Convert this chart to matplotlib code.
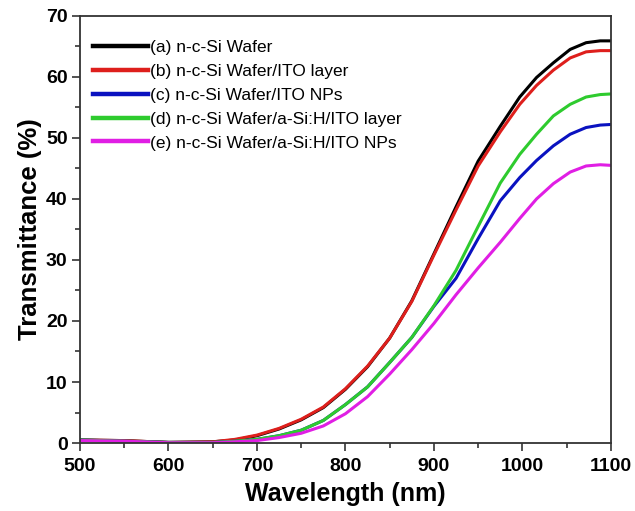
import matplotlib
matplotlib.use("Agg")
import matplotlib.pyplot as plt
from matplotlib.ticker import MultipleLocator

plt.rcParams['font.family'] = ['Liberation Sans', 'DejaVu Sans']

# longueurs d'onde (nm)
wl = [500, 550, 600, 650, 675, 700, 725, 750, 775, 800, 825, 850, 875, 900,
      925, 950, 975, 997, 1016, 1035, 1054, 1072, 1088, 1100]

# transmittance (%) pour chaque echantillon
T_a = [0.5, 0.4, 0.1, 0.2, 0.5, 1.2, 2.3, 3.8, 5.8, 8.8, 12.5, 17.2, 23.3, 31.0,
       38.7, 46.2, 51.9, 56.7, 59.9, 62.3, 64.5, 65.6, 65.9, 65.9]
T_b = [0.5, 0.4, 0.1, 0.2, 0.6, 1.3, 2.4, 3.9, 5.9, 8.9, 12.6, 17.2, 23.2, 30.8,
       38.2, 45.4, 51.0, 55.5, 58.6, 61.1, 63.1, 64.1, 64.3, 64.3]
T_c = [0.5, 0.3, 0.1, 0.1, 0.3, 0.6, 1.2, 2.1, 3.7, 6.3, 9.2, 13.2, 17.3, 22.4,
       27.0, 33.5, 39.7, 43.5, 46.3, 48.7, 50.6, 51.7, 52.1, 52.2]
T_d = [0.5, 0.3, 0.1, 0.1, 0.3, 0.6, 1.2, 2.1, 3.7, 6.3, 9.2, 13.2, 17.3, 22.5,
       28.3, 35.5, 42.6, 47.3, 50.6, 53.6, 55.5, 56.7, 57.1, 57.2]
T_e = [0.4, 0.3, 0.05, 0.05, 0.2, 0.4, 0.9, 1.6, 2.8, 4.8, 7.6, 11.3, 15.3, 19.6,
       24.3, 28.7, 32.9, 36.8, 40.0, 42.5, 44.4, 45.4, 45.6, 45.5]

labels = ['(a) n-c-Si Wafer',
          '(b) n-c-Si Wafer/ITO layer',
          '(c) n-c-Si Wafer/ITO NPs',
          '(d) n-c-Si Wafer/a-Si:H/ITO layer',
          '(e) n-c-Si Wafer/a-Si:H/ITO NPs']
couleurs = ['#000000', '#de1f1c', '#0a12c0', '#2ecb2e', '#e01ee4']

fig = plt.figure(figsize=(6.35, 5.11), dpi=100)
ax = fig.add_axes([0.126, 0.133, 0.836, 0.836])

for T, lab, c in zip([T_a, T_b, T_c, T_d, T_e], labels, couleurs):
    ax.plot(wl, T, '-', color=c, lw=2.2, label=lab)

ax.set_xlim(500, 1100)
ax.set_ylim(0, 70)
ax.xaxis.set_major_locator(MultipleLocator(100))
ax.xaxis.set_minor_locator(MultipleLocator(50))
ax.yaxis.set_major_locator(MultipleLocator(10))
ax.yaxis.set_minor_locator(MultipleLocator(5))
ax.tick_params(which='both', direction='out', top=False, right=False,
               width=1.2, color='#333333')
ax.tick_params(which='major', length=6, labelsize=14, pad=3)
ax.tick_params(axis='x', which='major', pad=5)
ax.tick_params(which='minor', length=3.5)
for lbl in ax.get_xticklabels() + ax.get_yticklabels():
    lbl.set_fontweight('bold')
for s in ax.spines.values():
    s.set_linewidth(1.3)
    s.set_color('#333333')

ax.set_xlabel('Wavelength (nm)', fontsize=18, fontweight='bold', labelpad=5)
ax.set_ylabel('Transmittance (%)', fontsize=18.5, fontweight='bold', labelpad=3)

leg = ax.legend(loc='upper left', bbox_to_anchor=(-0.0085, 0.984), frameon=False,
                fontsize=12.5, handlelength=3.2, handletextpad=0.1,
                labelspacing=0.5, borderaxespad=0.6)
for h in leg.get_lines():
    h.set_linewidth(3.2)

fig.savefig('out.png', dpi=100)
